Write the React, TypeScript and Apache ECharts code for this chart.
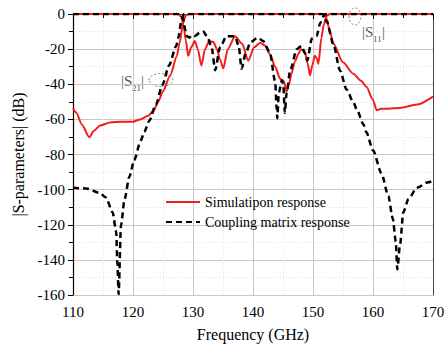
import React, { useEffect, useRef } from "react";
import * as echarts from "echarts";

// Simulation |S21|
const simS21Freq = [110, 110.5, 111.5, 112.7, 113.5, 114.5, 116.2, 118, 120, 121.2, 122.5, 123.4, 124.2, 125, 126.2, 127.3, 127.8, 128.2, 128.5, 128.9, 129.5, 152, 152.3, 152.8, 153.4, 155, 156.7, 158, 158.9, 160, 160.6, 161.4, 164.5, 167.3, 170];
const simS21Db = [-53.5, -56, -63, -70.2, -66.5, -63.5, -61.8, -61.3, -61.3, -60, -58, -55.3, -50, -44, -35, -24, -16, -8, -3, -0.5, 0, 0, -3, -10, -17, -27.5, -34, -38, -41.4, -48.9, -54.8, -54, -53.5, -51.6, -47];

// Simulation |S11|
const simS11Freq = [110, 127.6, 128.0, 128.4, 128.8, 129.2, 129.7, 130.3, 130.8, 131.4, 132.0, 132.7, 133.4, 134.0, 134.5, 135.05, 135.8, 137, 138.2, 139.2, 140.2, 141.2, 142.0, 142.8, 143.7, 144.5, 145.1, 145.6, 146.0, 146.4, 147.0, 147.55, 148.0, 148.6, 149.1, 149.5, 149.9, 150.3, 150.6, 150.9, 151.4, 151.8, 152.3, 152.8, 170];
const simS11Db = [0, 0, -1.5, -6, -15, -23.8, -19, -15.4, -20, -29.3, -20, -15.4, -16, -20, -26, -31, -20, -12.6, -17, -26.6, -19, -16.3, -18, -22.8, -30, -36.8, -38, -44.2, -40, -34, -27, -22.8, -20, -21, -28, -34.9, -29, -23.8, -25, -28.4, -13.5, -6, -1, 0, 0];

// Coupling matrix |S21|
const cmS21Freq = [110, 112.2, 114.4, 115.5, 116.6, 117.2, 117.4, 117.6, 118, 118.6, 119.4, 120.2, 121.3, 121.9, 122.7, 123.8, 124.9, 126, 127.2, 127.55, 128.1, 128.5, 151.6, 152.3, 153.4, 154.5, 155.6, 156.7, 157.3, 158.4, 158.9, 160, 161.4, 162.55, 163.3, 163.8, 164.05, 164.5, 165.05, 165.9, 167.3, 169.2, 170];
const cmS21Db = [-99, -99.3, -101.8, -104.5, -112.9, -124, -142.6, -159.5, -120.3, -105.4, -92.5, -83.2, -72, -67, -60.9, -51.6, -40.5, -29.3, -18.2, -13.5, -3.3, 0, 0, -4.3, -17.3, -32.1, -43, -50, -54.4, -62.8, -67.4, -77.6, -90.6, -103.6, -116.6, -129.6, -145.4, -131.5, -112.9, -105.4, -99, -95.8, -95];

// Coupling matrix |S11|
const cmS11Freq = [110, 128.0, 128.4, 128.7, 129.0, 129.4, 129.8, 130.3, 131.2, 131.7, 132.4, 133.1, 133.7, 134.5, 135.6, 137, 137.6, 138.1, 138.8, 139.6, 140.8, 141.7, 142.8, 143.7, 143.95, 144.05, 144.3, 144.8, 145.05, 145.3, 145.6, 146.2, 147.3, 148.1, 148.6, 149.05, 149.8, 150.6, 151.2, 151.7, 152.1, 170];
const cmS11Db = [0, 0, -3, -9, -12.6, -13.5, -12, -12.5, -10.5, -9.9, -13, -19, -32, -19, -12.6, -12.6, -18, -31.2, -22, -16, -13.5, -15.4, -21.9, -38.6, -54.4, -59.4, -45, -37.7, -40, -56.3, -45, -32.1, -20, -18.2, -22, -26.5, -14, -12.6, -5.2, -1.5, 0, 0];

const xTicks = [110, 170, 10];
const yTicks = [-160, 0, 20];

const zip = (xs: number[], ys: number[]) => xs.map((x, i) => [x, ys[i]]);

const SERIF = "'Liberation Serif', 'Times New Roman', serif";
const RED = "#f21d1d";

export default function App() {
  const ref = useRef<HTMLDivElement>(null);
  useEffect(() => {
    if (!ref.current) return;
    const chart = echarts.init(ref.current, undefined, { renderer: "svg" });
    const axisCommon = {
      axisLine: { show: true, lineStyle: { color: "#000", width: 1.2 } },
      axisTick: { show: true, length: 5, lineStyle: { color: "#000" } },
      minorTick: { show: true, splitNumber: 2, length: 4, lineStyle: { color: "#000" } },
      splitLine: { show: true, lineStyle: { color: "#c8c8c8", width: 1 } },
      minorSplitLine: { show: true, lineStyle: { color: "#e2e2e2", type: [1, 2] } },
      axisLabel: { color: "#000", fontSize: 15, fontFamily: SERIF },
      nameTextStyle: { color: "#000", fontSize: 16, fontFamily: SERIF },
    };
    const lineSeries = (name: string, xs: number[], ys: number[], lineStyle: any) => ({
      name,
      type: "line",
      data: zip(xs, ys),
      symbol: "none",
      smooth: 0.25,
      smoothMonotone: "x",
      lineStyle,
      itemStyle: { color: lineStyle.color },
    });
    chart.setOption({
      animation: false,
      backgroundColor: "#fff",
      grid: { left: 73, right: 15, top: 14, bottom: 45, containLabel: false },
      legend: {
        orient: "vertical",
        left: 160,
        top: 190,
        itemWidth: 34,
        itemHeight: 12,
        itemGap: 6,
        itemStyle: { opacity: 0 },
        data: ["Simulatipon response", "Coupling matrix response"],
        textStyle: { color: "#000", fontSize: 14, fontFamily: SERIF },
      },
      xAxis: [
        {
          ...axisCommon,
          type: "value",
          min: xTicks[0],
          max: xTicks[1],
          interval: xTicks[2],
          name: "Frequency (GHz)",
          nameLocation: "middle",
          nameGap: 31,
          axisLabel: { ...axisCommon.axisLabel, margin: 9 },
        },
        {
          type: "value",
          position: "top",
          min: xTicks[0],
          max: xTicks[1],
          axisLine: { show: true, lineStyle: { color: "#444" } },
          axisTick: { show: false },
          axisLabel: { show: false },
          splitLine: { show: false },
        },
      ],
      yAxis: [
        {
          ...axisCommon,
          type: "value",
          min: yTicks[0],
          max: yTicks[1],
          interval: yTicks[2],
          name: "|S-parameters| (dB)",
          nameLocation: "middle",
          nameGap: 43,
          axisLabel: { ...axisCommon.axisLabel, margin: 8 },
        },
        {
          type: "value",
          position: "right",
          min: yTicks[0],
          max: yTicks[1],
          axisLine: { show: true, lineStyle: { color: "#444" } },
          axisTick: { show: false },
          axisLabel: { show: false },
          splitLine: { show: false },
        },
      ],
      series: [
        lineSeries("Simulatipon response", simS21Freq, simS21Db, { color: RED, width: 2 }),
        lineSeries("Simulatipon response", simS11Freq, simS11Db, { color: RED, width: 2 }),
        lineSeries("Coupling matrix response", cmS21Freq, cmS21Db, { color: "#000", width: 2.5, type: [6, 4] }),
        lineSeries("Coupling matrix response", cmS11Freq, cmS11Db, { color: "#000", width: 2.5, type: [6, 4] }),
      ],
      graphic: [
        { type: "text", left: 121, top: 73, style: { text: "|S", fontSize: 15, fontFamily: SERIF, fill: "#555" } },
        { type: "text", left: 132, top: 83, style: { text: "21", fontSize: 9, fontFamily: SERIF, fill: "#555" } },
        { type: "text", left: 141, top: 73, style: { text: "|", fontSize: 15, fontFamily: SERIF, fill: "#555" } },
        { type: "ellipse", shape: { cx: 161, cy: 80, rx: 12, ry: 6.5 }, style: { fill: "none", stroke: "#888", lineWidth: 1, lineDash: [2, 2] } },
        { type: "text", left: 362, top: 24, style: { text: "|S", fontSize: 15, fontFamily: SERIF, fill: "#555" } },
        { type: "text", left: 373, top: 34, style: { text: "11", fontSize: 9, fontFamily: SERIF, fill: "#555" } },
        { type: "text", left: 382, top: 24, style: { text: "|", fontSize: 15, fontFamily: SERIF, fill: "#555" } },
        { type: "ellipse", shape: { cx: 355, cy: 16.5, rx: 6, ry: 8.5 }, style: { fill: "none", stroke: "#888", lineWidth: 1, lineDash: [2, 2] } },
      ],
    });
    return () => chart.dispose();
  }, []);
  return (
    <div
      ref={ref}
      style={{ position: "fixed", left: 0, top: 0, width: 448, height: 347, background: "#fff" }}
    />
  );
}
